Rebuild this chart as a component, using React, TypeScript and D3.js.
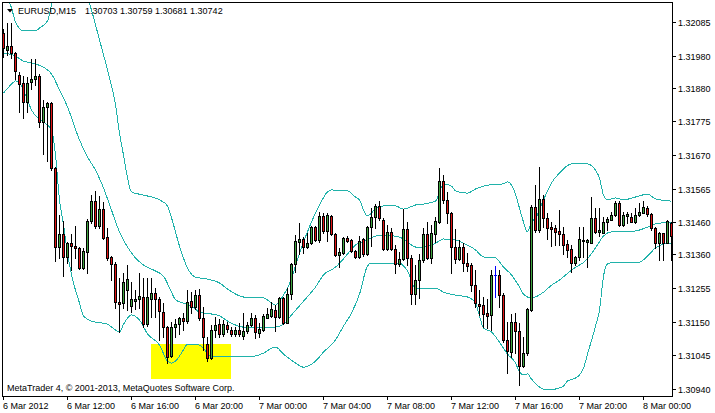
import React from 'react';
import * as d3 from 'd3';

// EURUSD M15 candles, 6 Mar 2012 08:00 onwards
const opens = [
    1.32051, 1.31998, 1.32010, 1.31988, 1.31920, 1.31895, 1.31835, 1.31898, 1.31907, 1.31916,
    1.31773, 1.31820, 1.31832, 1.31629, 1.31383, 1.31424, 1.31352, 1.31395, 1.31386, 1.31380,
    1.31317, 1.31367, 1.31464, 1.31526, 1.31448, 1.31501, 1.31414, 1.31352, 1.31330, 1.31211,
    1.31208, 1.31249, 1.31199, 1.31214, 1.31221, 1.31227, 1.31142, 1.31221, 1.31239, 1.31221,
    1.31180, 1.31133, 1.31043, 1.31133, 1.31142, 1.31161, 1.31152, 1.31214, 1.31196, 1.31233,
    1.31161, 1.31080, 1.31036, 1.31124, 1.31142, 1.31112, 1.31139, 1.31124, 1.31112, 1.31124,
    1.31105, 1.31121, 1.31139, 1.31161, 1.31115, 1.31124, 1.31161, 1.31168, 1.31186, 1.31164,
    1.31224, 1.31146, 1.31236, 1.31330, 1.31398, 1.31408, 1.31383, 1.31395, 1.31445, 1.31405,
    1.31480, 1.31433, 1.31480, 1.31424, 1.31358, 1.31364, 1.31411, 1.31405, 1.31370, 1.31352,
    1.31408, 1.31361, 1.31445, 1.31476, 1.31511, 1.31467, 1.31377, 1.31430, 1.31377, 1.31330,
    1.31346, 1.31439, 1.31349, 1.31236, 1.31280, 1.31342, 1.31424, 1.31349, 1.31424, 1.31461,
    1.31589, 1.31530, 1.31489, 1.31383, 1.31346, 1.31383, 1.31333, 1.31327, 1.31264, 1.31205,
    1.31202, 1.31177, 1.31171, 1.31296, 1.31296, 1.31233, 1.31093, 1.31055, 1.31149, 1.31121,
    1.31012, 1.31052, 1.31186, 1.31508, 1.31436, 1.31533, 1.31473, 1.31445, 1.31442, 1.31433,
    1.31424, 1.31392, 1.31377, 1.31333, 1.31352, 1.31402, 1.31398, 1.31395, 1.31473, 1.31430,
    1.31427, 1.31461, 1.31467, 1.31483, 1.31520, 1.31452, 1.31480, 1.31476, 1.31461, 1.31483,
    1.31489, 1.31504, 1.31486, 1.31442, 1.31395, 1.31427, 1.31395, 1.31458,
];
const highs = [
    1.32063, 1.32082, 1.32082, 1.31991, 1.31929, 1.31916, 1.31913, 1.31969, 1.31969, 1.31923,
    1.31842, 1.31835, 1.31835, 1.31632, 1.31483, 1.31464, 1.31398, 1.31424, 1.31448, 1.31383,
    1.31380, 1.31470, 1.31545, 1.31558, 1.31542, 1.31523, 1.31442, 1.31355, 1.31336, 1.31286,
    1.31302, 1.31327, 1.31274, 1.31249, 1.31302, 1.31286, 1.31286, 1.31286, 1.31255, 1.31227,
    1.31208, 1.31136, 1.31149, 1.31158, 1.31164, 1.31177, 1.31249, 1.31242, 1.31249, 1.31252,
    1.31196, 1.31102, 1.31139, 1.31164, 1.31158, 1.31155, 1.31149, 1.31133, 1.31133, 1.31146,
    1.31177, 1.31149, 1.31177, 1.31171, 1.31146, 1.31174, 1.31193, 1.31211, 1.31202, 1.31227,
    1.31227, 1.31255, 1.31333, 1.31420, 1.31458, 1.31414, 1.31427, 1.31448, 1.31448, 1.31492,
    1.31489, 1.31489, 1.31483, 1.31427, 1.31380, 1.31414, 1.31417, 1.31408, 1.31374, 1.31417,
    1.31411, 1.31448, 1.31504, 1.31517, 1.31526, 1.31473, 1.31452, 1.31442, 1.31389, 1.31367,
    1.31501, 1.31461, 1.31358, 1.31327, 1.31361, 1.31442, 1.31461, 1.31452, 1.31476, 1.31629,
    1.31608, 1.31554, 1.31492, 1.31439, 1.31405, 1.31395, 1.31364, 1.31333, 1.31311, 1.31249,
    1.31227, 1.31221, 1.31311, 1.31324, 1.31311, 1.31239, 1.31149, 1.31174, 1.31177, 1.31146,
    1.31102, 1.31193, 1.31514, 1.31576, 1.31632, 1.31545, 1.31489, 1.31461, 1.31452, 1.31498,
    1.31445, 1.31405, 1.31389, 1.31355, 1.31445, 1.31445, 1.31408, 1.31539, 1.31504, 1.31504,
    1.31476, 1.31476, 1.31492, 1.31526, 1.31526, 1.31492, 1.31492, 1.31489, 1.31504, 1.31520,
    1.31526, 1.31511, 1.31489, 1.31445, 1.31430, 1.31427, 1.31467, 1.31461,
];
const lows = [
    1.31976, 1.31982, 1.31973, 1.31907, 1.31804, 1.31785, 1.31804, 1.31876, 1.31888, 1.31757,
    1.31673, 1.31651, 1.31623, 1.31339, 1.31349, 1.31292, 1.31333, 1.31311, 1.31349, 1.31314,
    1.31314, 1.31302, 1.31458, 1.31442, 1.31442, 1.31408, 1.31342, 1.31280, 1.31193, 1.31118,
    1.31193, 1.31186, 1.31180, 1.31189, 1.31193, 1.31133, 1.31136, 1.31164, 1.31164, 1.31093,
    1.31102, 1.31021, 1.31040, 1.31102, 1.31112, 1.31124, 1.31146, 1.31177, 1.31189, 1.31155,
    1.31062, 1.31027, 1.31033, 1.31102, 1.31102, 1.31105, 1.31118, 1.31105, 1.31105, 1.31105,
    1.31096, 1.31115, 1.31136, 1.31099, 1.31102, 1.31121, 1.31161, 1.31164, 1.31121, 1.31161,
    1.31142, 1.31146, 1.31221, 1.31305, 1.31361, 1.31364, 1.31380, 1.31392, 1.31402, 1.31398,
    1.31427, 1.31402, 1.31420, 1.31355, 1.31320, 1.31361, 1.31398, 1.31367, 1.31349, 1.31349,
    1.31355, 1.31358, 1.31386, 1.31442, 1.31467, 1.31374, 1.31374, 1.31374, 1.31302, 1.31324,
    1.31342, 1.31327, 1.31205, 1.31205, 1.31224, 1.31336, 1.31346, 1.31333, 1.31398, 1.31458,
    1.31520, 1.31458, 1.31302, 1.31333, 1.31342, 1.31308, 1.31308, 1.31246, 1.31196, 1.31171,
    1.31133, 1.31130, 1.31124, 1.31227, 1.31196, 1.31086, 1.30990, 1.31040, 1.31052, 1.30952,
    1.31008, 1.31046, 1.31183, 1.31430, 1.31430, 1.31445, 1.31408, 1.31386, 1.31389, 1.31389,
    1.31361, 1.31352, 1.31305, 1.31327, 1.31342, 1.31352, 1.31320, 1.31395, 1.31427, 1.31417,
    1.31427, 1.31436, 1.31467, 1.31480, 1.31448, 1.31448, 1.31458, 1.31461, 1.31458, 1.31480,
    1.31489, 1.31480, 1.31436, 1.31380, 1.31342, 1.31342, 1.31395, 1.31342,
];
const closes = [
    1.32004, 1.32010, 1.31988, 1.31932, 1.31891, 1.31835, 1.31895, 1.31907, 1.31916, 1.31773,
    1.31820, 1.31832, 1.31629, 1.31383, 1.31424, 1.31352, 1.31395, 1.31386, 1.31380, 1.31317,
    1.31370, 1.31464, 1.31526, 1.31448, 1.31501, 1.31411, 1.31349, 1.31330, 1.31211, 1.31205,
    1.31274, 1.31283, 1.31221, 1.31221, 1.31230, 1.31142, 1.31227, 1.31239, 1.31221, 1.31183,
    1.31133, 1.31040, 1.31133, 1.31142, 1.31161, 1.31152, 1.31211, 1.31196, 1.31233, 1.31161,
    1.31102, 1.31036, 1.31124, 1.31139, 1.31112, 1.31142, 1.31127, 1.31112, 1.31124, 1.31112,
    1.31121, 1.31139, 1.31161, 1.31118, 1.31127, 1.31168, 1.31174, 1.31189, 1.31164, 1.31224,
    1.31146, 1.31236, 1.31330, 1.31402, 1.31408, 1.31383, 1.31395, 1.31445, 1.31405, 1.31480,
    1.31433, 1.31483, 1.31424, 1.31358, 1.31367, 1.31411, 1.31402, 1.31370, 1.31352, 1.31402,
    1.31361, 1.31445, 1.31476, 1.31511, 1.31473, 1.31377, 1.31430, 1.31377, 1.31330, 1.31346,
    1.31439, 1.31349, 1.31236, 1.31280, 1.31342, 1.31424, 1.31349, 1.31427, 1.31464, 1.31589,
    1.31530, 1.31489, 1.31383, 1.31346, 1.31383, 1.31333, 1.31324, 1.31264, 1.31208, 1.31199,
    1.31174, 1.31168, 1.31296, 1.31296, 1.31233, 1.31093, 1.31058, 1.31149, 1.31121, 1.31012,
    1.31052, 1.31189, 1.31508, 1.31436, 1.31533, 1.31473, 1.31442, 1.31439, 1.31430, 1.31424,
    1.31389, 1.31374, 1.31333, 1.31352, 1.31408, 1.31405, 1.31405, 1.31473, 1.31430, 1.31436,
    1.31461, 1.31470, 1.31483, 1.31520, 1.31452, 1.31483, 1.31486, 1.31461, 1.31483, 1.31492,
    1.31508, 1.31486, 1.31442, 1.31395, 1.31427, 1.31395, 1.31464, 1.31417,
];

// Bollinger bands, [bar index, price]
const upperBand: [number, number][] = [
    [0, 1.32179], [2, 1.32129], [3, 1.32085], [5, 1.32057], [8, 1.32057], [9, 1.32066], [11, 1.32088],
    [12, 1.32138], [13, 1.32216], [15, 1.32278], [17, 1.32278], [19, 1.32232], [21, 1.32163], [22, 1.32122],
    [24, 1.32029], [26, 1.31935], [28, 1.31826], [29, 1.31739], [30, 1.31670], [32, 1.31555], [35, 1.31545],
    [39, 1.31530], [41, 1.31511], [42, 1.31474], [44, 1.31386], [46, 1.31317], [48, 1.31289], [51, 1.31283],
    [54, 1.31271], [56, 1.31252], [60, 1.31227], [65, 1.31224], [68, 1.31202], [70, 1.31233], [72, 1.31283],
    [73, 1.31324], [75, 1.31398], [77, 1.31461], [79, 1.31514], [81, 1.31555], [82, 1.31561], [86, 1.31558],
    [88, 1.31539], [89, 1.31530], [90, 1.31498], [91, 1.31480], [92, 1.31489], [93, 1.31504], [95, 1.31511],
    [98, 1.31511], [100, 1.31501], [103, 1.31514], [105, 1.31517], [108, 1.31526], [109, 1.31554], [110, 1.31580],
    [112, 1.31573], [113, 1.31558], [116, 1.31551], [118, 1.31564], [121, 1.31576], [125, 1.31580], [126, 1.31586],
    [127, 1.31576], [128, 1.31548], [129, 1.31504], [130, 1.31461], [131, 1.31430], [132, 1.31461], [133, 1.31473],
    [135, 1.31530], [137, 1.31583], [139, 1.31614], [142, 1.31642], [146, 1.31642], [148, 1.31623], [149, 1.31598],
    [150, 1.31545], [151, 1.31530], [153, 1.31536], [155, 1.31530], [158, 1.31539], [161, 1.31548], [163, 1.31533],
    [167, 1.31526],
];
const middleBand: [number, number][] = [
    [0, 1.31988], [3, 1.31979], [5, 1.31963], [7, 1.31957], [10, 1.31944], [12, 1.31923], [14, 1.31873],
    [16, 1.31820], [19, 1.31717], [21, 1.31664], [23, 1.31623], [25, 1.31567], [27, 1.31498], [29, 1.31430],
    [31, 1.31383], [33, 1.31349], [35, 1.31327], [38, 1.31308], [40, 1.31292], [42, 1.31242], [43, 1.31218],
    [45, 1.31208], [47, 1.31199], [49, 1.31180], [52, 1.31174], [54, 1.31168], [56, 1.31152], [60, 1.31133],
    [68, 1.31133], [70, 1.31142], [72, 1.31171], [75, 1.31214], [78, 1.31258], [80, 1.31296], [83, 1.31320],
    [85, 1.31346], [88, 1.31389], [91, 1.31405], [93, 1.31417], [95, 1.31420], [99, 1.31414], [101, 1.31398],
    [103, 1.31383], [105, 1.31383], [108, 1.31395], [110, 1.31408], [113, 1.31405], [115, 1.31395], [118, 1.31374],
    [120, 1.31352], [123, 1.31349], [125, 1.31320], [127, 1.31296], [129, 1.31258], [130, 1.31236], [132, 1.31224],
    [135, 1.31242], [137, 1.31264], [139, 1.31280], [142, 1.31311], [146, 1.31346], [148, 1.31380], [150, 1.31417],
    [152, 1.31430], [156, 1.31430], [159, 1.31436], [161, 1.31445], [163, 1.31455], [167, 1.31461],
];
const lowerBand: [number, number][] = [
    [0, 1.31863], [2, 1.31891], [3, 1.31901], [4, 1.31895], [6, 1.31842], [7, 1.31810], [10, 1.31773],
    [12, 1.31748], [13, 1.31670], [14, 1.31530], [15, 1.31452], [16, 1.31364], [17, 1.31296], [19, 1.31208],
    [20, 1.31168], [22, 1.31152], [26, 1.31142], [28, 1.31124], [29, 1.31118], [30, 1.31142], [32, 1.31171],
    [34, 1.31155], [36, 1.31112], [39, 1.31077], [41, 1.31027], [42, 1.31021], [43, 1.31027], [45, 1.31062],
    [46, 1.31080], [49, 1.31077], [51, 1.31052], [52, 1.31040], [59, 1.31040], [63, 1.31043], [65, 1.31052],
    [68, 1.31071], [70, 1.31049], [73, 1.31021], [75, 1.31008], [78, 1.31027], [80, 1.31055], [83, 1.31093],
    [85, 1.31136], [87, 1.31177], [89, 1.31236], [91, 1.31324], [92, 1.31333], [99, 1.31333], [100, 1.31324],
    [101, 1.31308], [103, 1.31255], [108, 1.31255], [110, 1.31242], [113, 1.31233], [116, 1.31227], [118, 1.31208],
    [119, 1.31168], [120, 1.31130], [122, 1.31118], [124, 1.31086], [126, 1.31049], [128, 1.31021], [129, 1.30993],
    [130, 1.30984], [131, 1.30987], [132, 1.30971], [134, 1.30946], [136, 1.30937], [138, 1.30940], [140, 1.30949],
    [141, 1.30965], [143, 1.30974], [144, 1.30984], [145, 1.31005], [146, 1.31049], [148, 1.31136], [149, 1.31186],
    [150, 1.31292], [151, 1.31330], [153, 1.31336], [159, 1.31336], [161, 1.31355], [163, 1.31380], [165, 1.31392],
    [167, 1.31395],
];

const timeLabels = [
    '6 Mar 2012', '6 Mar 12:00', '6 Mar 16:00', '6 Mar 20:00', '7 Mar 00:00', '7 Mar 04:00',
    '7 Mar 08:00', '7 Mar 12:00', '7 Mar 16:00', '7 Mar 20:00', '8 Mar 00:00',
];
const timeLabelBars = [0, 16, 32, 48, 64, 80, 96, 112, 128, 144, 160];

const priceTicks = [
    1.32085, 1.3198, 1.3188, 1.31775, 1.3167, 1.31565, 1.3146, 1.3136, 1.31255, 1.3115, 1.31045, 1.3094,
];

// yellow rectangle object: bar range and price range
const boxBars = [37, 57];
const boxPrices = [1.3108, 1.30971];

const headerSymbol = 'EURUSD,M15';
const headerQuote = ['1.30703', '1.30759', '1.30681', '1.30742'];
const footerText = 'MetaTrader 4, \u00a9 2001-2013, MetaQuotes Software Corp.';

const W = 715;
const H = 413;
const FONT = "'Liberation Sans', Arial, sans-serif";
const BULL = '#3fa43f';
const BEAR = '#e01414';
const BAND = '#20b2aa';

const App: React.FC = () => {
    const x = d3.scaleLinear().domain([0, opens.length - 1]).range([3, 671]);
    const y = d3.scaleLinear().domain([1.3094, 1.32085]).range([389, 22]);

    const band = d3.line<[number, number]>()
        .x((d) => x(d[0]) + 0.5)
        .y((d) => y(d[1]))
        .curve(d3.curveMonotoneX);

    const bx0 = x(boxBars[0]);
    const bx1 = x(boxBars[1]);
    const by0 = Math.round(y(boxPrices[0]));
    const by1 = Math.round(y(boxPrices[1]));

    return (
        <div style={{ position: 'absolute', left: 0, top: 0 }}>
            <svg width={W} height={H} style={{ display: 'block', background: '#fff' }} shapeRendering="crispEdges">
                <defs>
                    <clipPath id="plot">
                        <rect x={3} y={3} width={669} height={393} />
                    </clipPath>
                </defs>
                <rect x={0} y={0} width={W} height={H} fill="#fff" />

                <g clipPath="url(#plot)">
                    <rect x={bx0} y={by0} width={bx1 - bx0} height={by1 - by0} fill="#ffff00" />

                    {[upperBand, middleBand, lowerBand].map((b, k) => (
                        <path key={k} d={band(b) || ''} fill="none" stroke={BAND} strokeWidth={1} />
                    ))}

                    {opens.map((o, i) => {
                        const c = closes[i];
                        const px = Math.round(x(i));
                        const yh = Math.round(y(highs[i]));
                        const yl = Math.round(y(lows[i]));
                        const yo = Math.round(y(o));
                        const yc = Math.round(y(c));
                        const top = Math.min(yo, yc);
                        const bot = Math.max(yo, yc);
                        if (o === c) {
                            return (
                                <g key={i} fill="#0000ff">
                                    <rect x={px} y={yh} width={1} height={yl - yh + 1} />
                                    <rect x={px - 1} y={yo} width={3} height={1} />
                                </g>
                            );
                        }
                        return (
                            <g key={i}>
                                <rect x={px} y={yh} width={1} height={yl - yh + 1} fill="#000" />
                                <rect x={px - 1} y={top} width={3} height={bot - top + 1} fill="#000" />
                                {bot - top > 1 && (
                                    <rect x={px} y={top + 1} width={1} height={bot - top - 1} fill={c > o ? BULL : BEAR} />
                                )}
                            </g>
                        );
                    })}
                </g>

                {/* frame */}
                <rect x={2.5} y={2.5} width={670} height={394} fill="none" stroke="#000" strokeWidth={1} />

                {/* price axis */}
                {priceTicks.map((p) => {
                    const ty = Math.round(y(p));
                    return (
                        <g key={p}>
                            <rect x={673} y={ty} width={3} height={1} fill="#000" />
                            <text x={678} y={ty + 3.5} fontFamily={FONT} fontSize={9} fill="#000">
                                {p.toFixed(5)}
                            </text>
                        </g>
                    );
                })}

                {/* time axis */}
                {timeLabelBars.map((b, k) => {
                    const tx = Math.round(x(b));
                    return (
                        <g key={b}>
                            <rect x={tx} y={397} width={1} height={3} fill="#000" />
                            <text x={tx} y={408.5} fontFamily={FONT} fontSize={9} fill="#000">
                                {timeLabels[k]}
                            </text>
                        </g>
                    );
                })}

                {/* header */}
                <path d="M7,9 L13,9 L10,12.5 Z" fill="#000" shapeRendering="auto" />
                <text x={18} y={14} fontFamily={FONT} fontSize={9} fill="#000">{headerSymbol}</text>
                <text x={85} y={14} fontFamily={FONT} fontSize={9} fill="#000" style={{ whiteSpace: 'pre' }}>
                    {headerQuote.join(' ')}
                </text>

                <text x={7} y={391} fontFamily={FONT} fontSize={9} fill="#000">{footerText}</text>
            </svg>
        </div>
    );
};

export default App;
